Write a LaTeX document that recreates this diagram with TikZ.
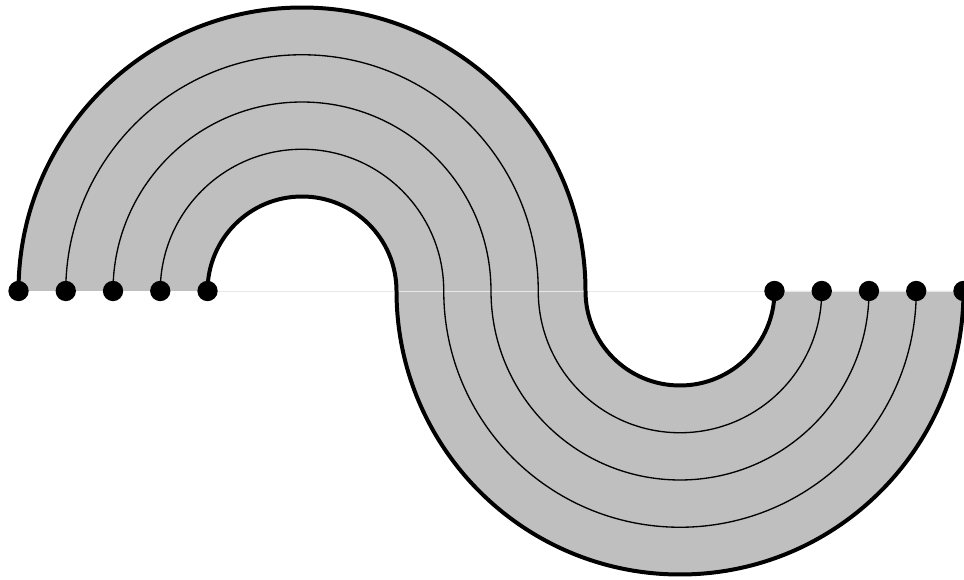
\documentclass[tikz,border=0pt]{standalone}
\begin{document}
\begin{tikzpicture}[x=1cm,y=1cm,
  bandfill/.style={fill=bandgray, draw=none},
  boldarc/.style={line width=2.4pt},
  thinarc/.style={line width=0.8pt},
  seam/.style={draw=black!9, line width=0.35pt},
  dot/.style={circle, fill=black, inner sep=0pt, minimum size=0.43cm}]
\definecolor{bandgray}{RGB}{191,191,191}
\useasboundingbox (-6.392,-6.116) rectangle (14.011,6.159);
% fills
\fill[bandfill] (-6,0) arc[start angle=180,end angle=0,radius=6] -- (2,0) arc[start angle=0,end angle=180,radius=2] -- cycle;
\fill[bandfill] (2,0) arc[start angle=180,end angle=360,radius=6] -- (10,0) arc[start angle=360,end angle=180,radius=2] -- cycle;
% dots (named)
\foreach \i/\x in {1/-6,2/-5,3/-4,4/-3,5/-2}{\coordinate (l\i) at (\x,0);}
\foreach \i/\x in {1/10,2/11,3/12,4/13,5/14}{\coordinate (r\i) at (\x,0);}
\coordinate (m1) at (2,0);
\coordinate (m5) at (6,0);
\draw[seam] (l5) -- (r5);
% arcs
\draw[boldarc] (l1) arc[start angle=180,end angle=0,radius=6]
  arc[start angle=180,end angle=360,radius=2];
\draw[thinarc] (l2) arc[start angle=180,end angle=0,radius=5]
  arc[start angle=180,end angle=360,radius=3];
\draw[thinarc] (l3) arc[start angle=180,end angle=0,radius=4]
  arc[start angle=180,end angle=360,radius=4];
\draw[thinarc] (l4) arc[start angle=180,end angle=0,radius=3]
  arc[start angle=180,end angle=360,radius=5];
\draw[boldarc] (l5) arc[start angle=180,end angle=0,radius=2]
  arc[start angle=180,end angle=360,radius=6];
\foreach \n in {l1,l2,l3,l4,l5,r1,r2,r3,r4,r5}{\node[dot] (d\n) at (\n) {};}
\end{tikzpicture}
\end{document}
